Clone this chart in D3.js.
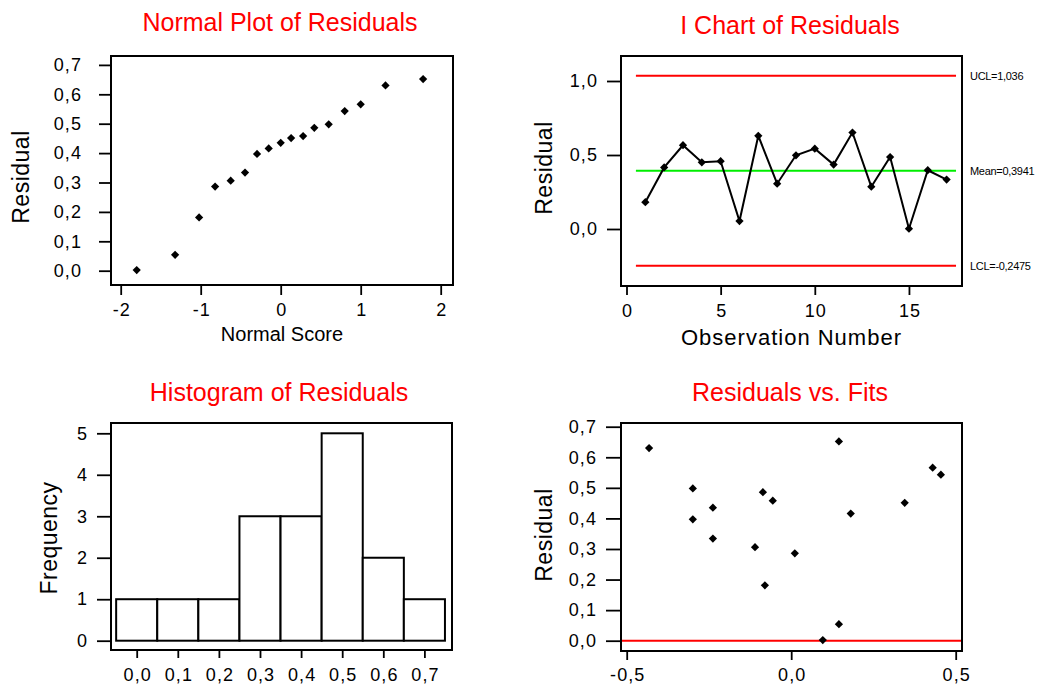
<!DOCTYPE html>
<html lang="en">
<head>
    <meta charset="utf-8">
    <title>Residual Plots</title>
    <script src="https://d3js.org/d3.v7.min.js"></script>
    <style>
        body { margin: 0; background: #fff; }
        text { font-family: "Liberation Sans", Arial, sans-serif; }
    </style>
</head>
<body>
<svg width="1038" height="686"></svg>
<script>
    // residual for each observation 1..17
    var observations = [1,2,3,4,5,6,7,8,9,10,11,12,13,14,15,16,17];
    var residuals = [0.181,0.416,0.566,0.451,0.458,0.054,0.630,0.306,0.498,0.543,0.435,0.652,0.286,0.486,0.002,0.397,0.334];
    var fits = [-0.080,0.181,0.430,0.345,-0.056,0.145,-0.432,-0.110,-0.299,0.455,-0.238,0.145,0.011,-0.086,0.096,-0.299,-0.238];
    // normal scores for sorted residuals
    var normalScores = [-1.80,-1.32,-1.02,-0.82,-0.625,-0.446,-0.296,-0.15,0.0,0.13,0.28,0.42,0.60,0.80,1.0,1.31,1.78];
    // histogram
    var binMids = [0.0,0.1,0.2,0.3,0.4,0.5,0.6,0.7];
    var binCounts = [1,1,1,3,3,5,2,1];
    // control limits
    var limitNames = ["UCL=1,036","Mean=0,3941","LCL=-0,2475"];
    var limitValues = [1.036,0.3941,-0.2475];
    var limitColors = ["#ff0000","#00ee00","#ff0000"];

    var npXTicks = [-2,-1,0,1,2];
    var npYTicks = [0,0.1,0.2,0.3,0.4,0.5,0.6,0.7];
    var icXTicks = [0,5,10,15];
    var icYTicks = [0,0.5,1.0];
    var hXTicks = [0,0.1,0.2,0.3,0.4,0.5,0.6,0.7];
    var hYTicks = [0,1,2,3,4,5];
    var rfXTicks = [-0.5,0,0.5];
    var rfYTicks = [0,0.1,0.2,0.3,0.4,0.5,0.6,0.7];

    var loc = d3.formatLocale({decimal:",", thousands:".", grouping:[3], currency:["",""], minus:"-"});
    var f1 = loc.format(".1f");
    var f0 = loc.format("d");

    var svg = d3.select("svg");
    var diamond = d3.symbol().type(d3.symbolSquare).size(34);

    function panel(o) {
        var g = svg.append("g");
        var x = d3.scaleLinear().domain(o.xd).range([o.x0, o.x1]);
        var y = d3.scaleLinear().domain(o.yd).range([o.y1, o.y0]);

        g.append("text").attr("x", o.tx).attr("y", o.ty)
            .attr("text-anchor","middle").attr("fill","#ff0000")
            .attr("font-size", 25).text(o.title);

        var ax = g.append("g").attr("transform","translate(0,"+o.y1+")")
            .call(d3.axisBottom(x).tickValues(o.xt).tickFormat(o.xf).tickSize(o.xts).tickPadding(o.xtp));
        var ay = g.append("g").attr("transform","translate("+o.x0+",0)")
            .call(d3.axisLeft(y).tickValues(o.yt).tickFormat(o.yf).tickSize(o.yts).tickPadding(o.ytp));
        [ax, ay].forEach(function(a){
            a.select(".domain").remove();
            a.selectAll("line").attr("stroke","#000").attr("stroke-width",1.8);
            a.selectAll("text").attr("fill","#000").attr("font-size",18)
                .attr("letter-spacing",1.1)
                .style("font-family","Liberation Sans, Arial, sans-serif");
        });
        // letter-spacing trails the last glyph, shift x labels back to centre
        ax.selectAll("text").attr("dx", 0.55);

        g.append("text").attr("x", (o.x0+o.x1)/2).attr("y", o.xly)
            .attr("text-anchor","middle").attr("font-size", o.xls || 21)
            .attr("letter-spacing", o.xlsp || 0).text(o.xl);
        g.append("text").attr("transform","translate("+o.ylx+","+o.yly+") rotate(-90)")
            .attr("text-anchor","middle").attr("font-size", 23)
            .attr("letter-spacing", 0.5).text(o.yl);

        return {g:g, x:x, y:y};
    }

    function frame(p, o) {
        p.g.append("rect").attr("x",o.x0).attr("y",o.y0)
            .attr("width",o.x1-o.x0).attr("height",o.y1-o.y0)
            .attr("fill","none").attr("stroke","#000").attr("stroke-width",2);
    }

    // ---- Normal plot
    var o1 = {x0:111,x1:453,y0:56,y1:285,
        xd:[-2-9.7/80, 2+12.3/80], yd:[(270.7-285)/294, (270.7-56)/294],
        title:"Normal Plot of Residuals", tx:280, ty:31,
        xt:npXTicks, xf:f0, xts:10, xtp:8, yt:npYTicks, yf:f1, yts:12, ytp:17,
        xl:"Normal Score", xly:341, yl:"Residual", ylx:29, yly:177, xls:20};
    var p1 = panel(o1);
    var sorted = residuals.slice().sort(d3.ascending);
    p1.g.selectAll("path.pt").data(sorted).enter().append("path")
        .attr("class","pt")
        .attr("d", diamond)
        .attr("transform", function(d,i){ return "translate("+p1.x(normalScores[i])+","+p1.y(d)+") rotate(45)"; })
        .attr("fill","#000");
    frame(p1, o1);

    // ---- I chart
    var o2 = {x0:621,x1:962,y0:56,y1:286,
        xd:[(621-626.5)/18.83, (962-626.5)/18.83], yd:[(229-286)/148, (229-56)/148],
        title:"I Chart of Residuals", tx:790, ty:34,
        xt:icXTicks, xf:f0, xts:9, xtp:9, yt:icYTicks, yf:f1, yts:14, ytp:9,
        xl:"Observation Number", xly:345, xls:22, xlsp:1.0, yl:"Residual", ylx:552, yly:168};
    var p2 = panel(o2);
    limitValues.forEach(function(v,i){
        p2.g.append("line").attr("x1",p2.x(0.5)).attr("x2",p2.x(17.5))
            .attr("y1",p2.y(v)).attr("y2",p2.y(v))
            .attr("stroke",limitColors[i]).attr("stroke-width",2);
        p2.g.append("text").attr("x",970).attr("y",p2.y(v)+4)
            .attr("font-size",11).attr("letter-spacing",-0.3).text(limitNames[i]);
    });
    var line = d3.line().x(function(d,i){ return p2.x(observations[i]); }).y(function(d){ return p2.y(d); });
    p2.g.append("path").datum(residuals).attr("d",line)
        .attr("fill","none").attr("stroke","#000").attr("stroke-width",2);
    p2.g.selectAll("path.pt").data(residuals).enter().append("path")
        .attr("class","pt")
        .attr("d", diamond)
        .attr("transform", function(d,i){ return "translate("+p2.x(observations[i])+","+p2.y(d)+") rotate(45)"; })
        .attr("fill","#000");
    frame(p2, o2);

    // ---- Histogram
    var o3 = {x0:111,x1:452,y0:423,y1:650,
        xd:[(111-136.7)/411, (452-136.7)/411], yd:[(640.7-650)/41.48, (640.7-423)/41.48],
        title:"Histogram of Residuals", tx:279, ty:401,
        xt:hXTicks, xf:f1, xts:8, xtp:10, yt:hYTicks, yf:f0, yts:14, ytp:9,
        xl:"", xly:0, yl:"Frequency", ylx:57, yly:538};
    var p3 = panel(o3);
    p3.g.selectAll("rect.bar").data(binCounts).enter().append("rect")
        .attr("class","bar")
        .attr("x", function(d,i){ return p3.x(binMids[i]-0.05); })
        .attr("width", function(d,i){ return p3.x(binMids[i]+0.05)-p3.x(binMids[i]-0.05); })
        .attr("y", function(d){ return p3.y(d); })
        .attr("height", function(d){ return p3.y(0)-p3.y(d); })
        .attr("fill","#fff").attr("stroke","#000").attr("stroke-width",2);
    frame(p3, o3);

    // ---- Residuals vs fits
    var o4 = {x0:621,x1:962,y0:423,y1:651,
        xd:[-0.5-(626.7-621)/329, 0.5+(962-955.7)/329], yd:[(640.7-651)/305.7, (640.7-423)/305.7],
        title:"Residuals vs. Fits", tx:790, ty:401,
        xt:rfXTicks, xf:f1, xts:9, xtp:8, yt:rfYTicks, yf:f1, yts:15, ytp:9,
        xl:"", xly:0, yl:"Residual", ylx:552, yly:535};
    var p4 = panel(o4);
    p4.g.append("line").attr("x1",o4.x0).attr("x2",o4.x1)
        .attr("y1",p4.y(0)).attr("y2",p4.y(0))
        .attr("stroke","#ff0000").attr("stroke-width",2);
    p4.g.selectAll("path.pt").data(residuals).enter().append("path")
        .attr("class","pt")
        .attr("d", diamond)
        .attr("transform", function(d,i){ return "translate("+p4.x(fits[i])+","+p4.y(d)+") rotate(45)"; })
        .attr("fill","#000");
    frame(p4, o4);
</script>
</body>
</html>
